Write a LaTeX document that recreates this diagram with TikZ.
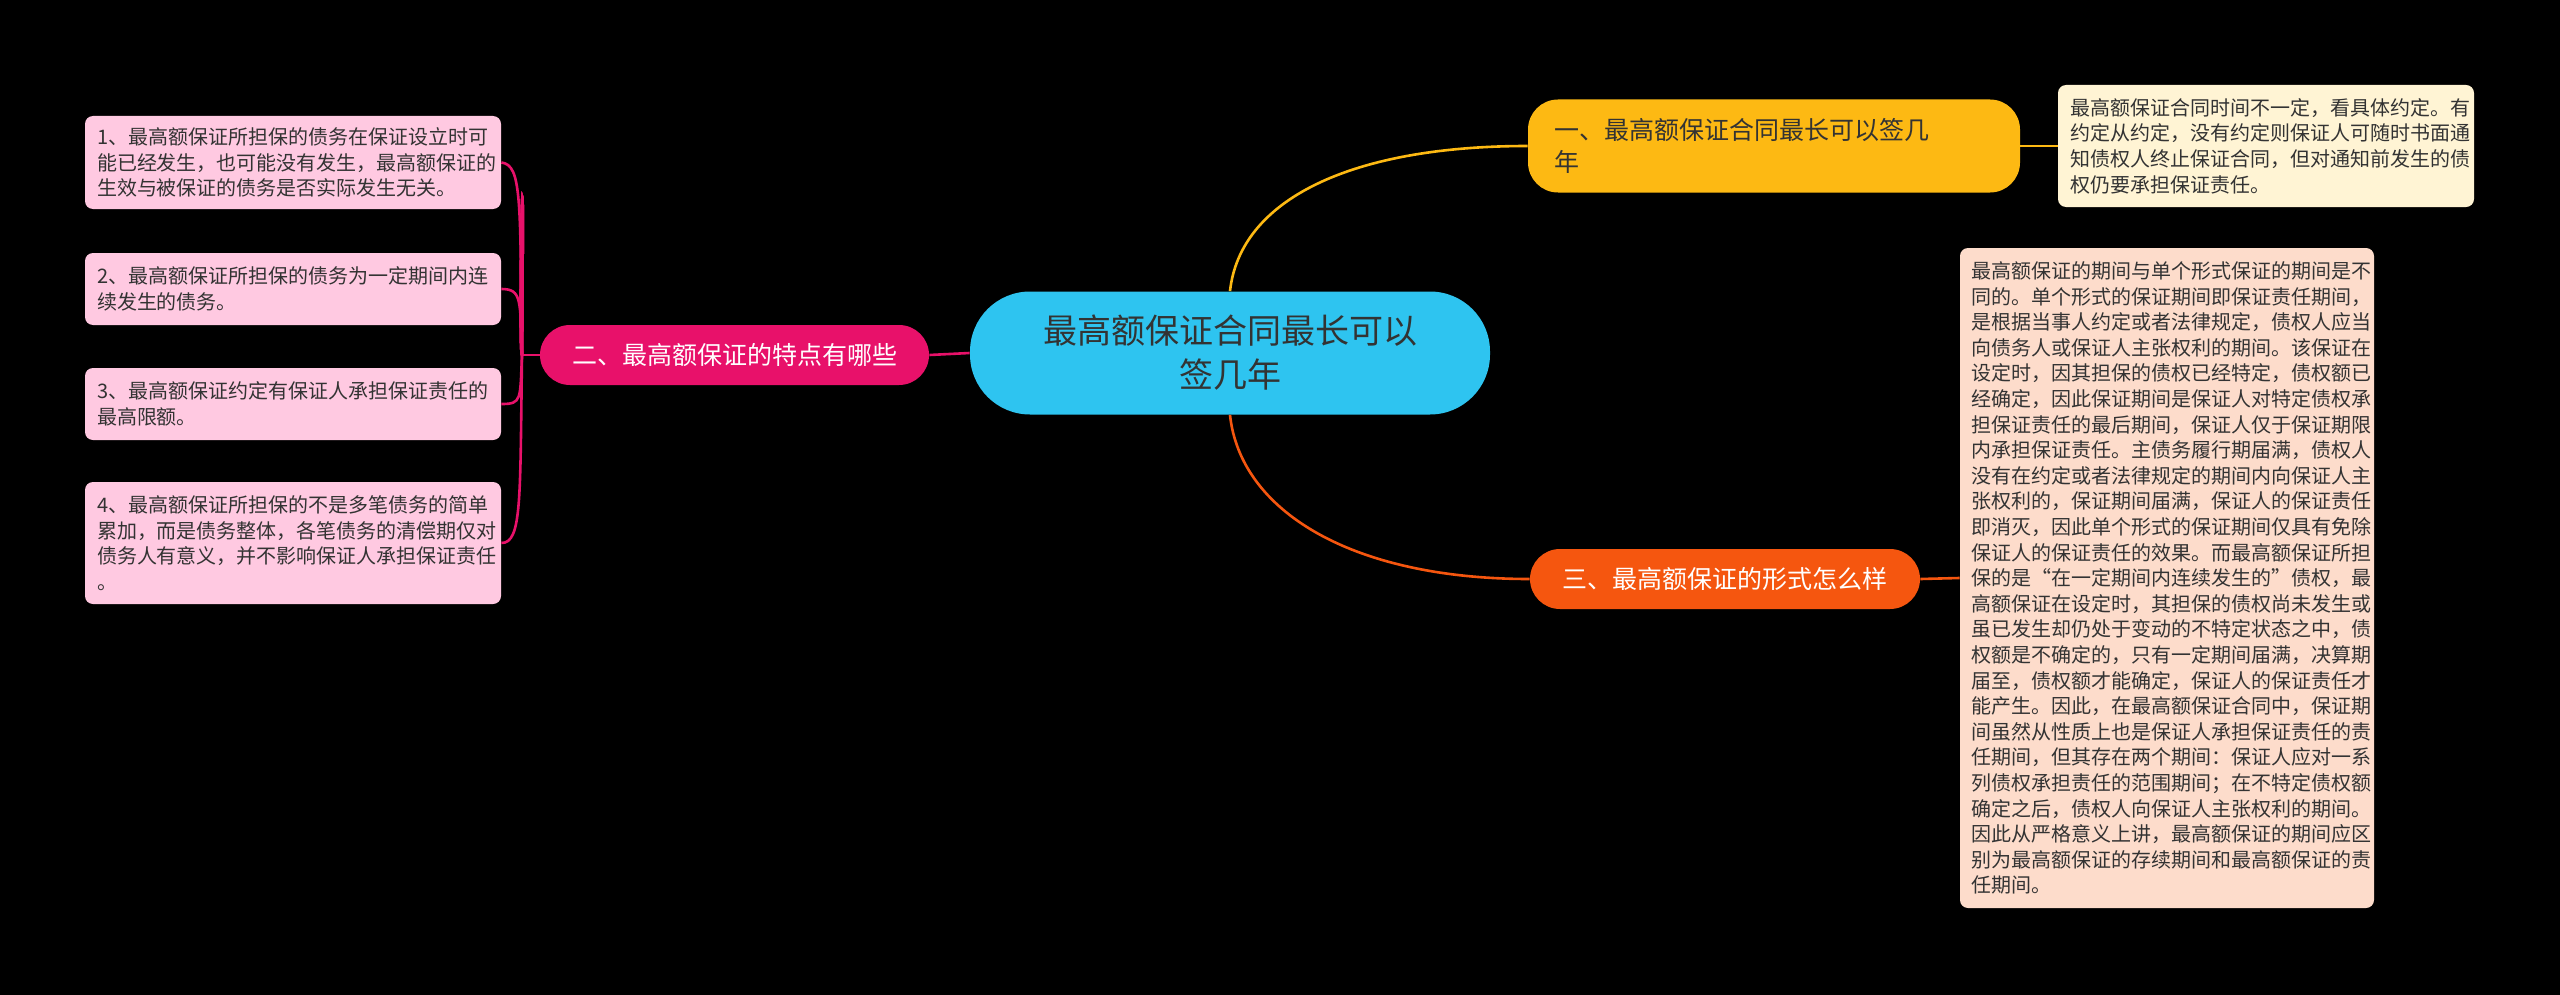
\documentclass[tikz,border=0pt]{standalone}
\usepackage{fontspec}
\setmainfont{Noto Sans CJK SC}
\begin{document}
\begin{tikzpicture}[x=0.5pt,y=-0.5pt,
  leaf/.style={rounded corners=4pt,inner sep=0pt,font=\fontsize{10}{12.8}\selectfont,text=black!80,align=left},
  branch/.style={rounded corners=15pt,inner sep=0pt,font=\fontsize{12.5}{16}\selectfont,align=left},
  conn/.style={line width=1.3pt}]
\fill[black] (0,0) rectangle (2560,995);
\useasboundingbox (0,0) rectangle (2560,995);
\definecolor{cen}{HTML}{2EC4F0}
\definecolor{yel}{HTML}{FDB913}
\definecolor{ora}{HTML}{F5560F}
\definecolor{pnk}{HTML}{E8116A}
\definecolor{yleaf}{HTML}{FFF4D4}
\definecolor{oleaf}{HTML}{FDDCCB}
\definecolor{pleaf}{HTML}{FFC9E1}
% center
\node[fill=cen,rounded corners=30pt,minimum width=260pt,minimum height=61.5pt,align=center,font=\fontsize{17}{22}\selectfont,text=black!80] (c) at (1230,353) {最高额保证合同最长可以\\签几年};
% branch 1
\node[branch,fill=yel,text=black!80,minimum width=246pt,minimum height=46.5pt,text width=220pt] (b1) at (1774,146) {一、最高额保证合同最长可以签几\\年};
\node[leaf,fill=yleaf,minimum width=208pt,minimum height=61pt,text width=196pt] (l1) at (2266,146) {最高额保证合同时间不一定，看具体约定。有\\约定从约定，没有约定则保证人可随时书面通\\知债权人终止保证合同，但对通知前发生的债\\权仍要承担保证责任。};
% branch 3
\node[branch,fill=ora,text=white,minimum width=195pt,minimum height=30pt,align=center] (b3) at (1725,579) {三、最高额保证的形式怎么样};
\node[leaf,fill=oleaf,minimum width=207pt,minimum height=330pt,text width=196pt] (l3) at (2167,578) {最高额保证的期间与单个形式保证的期间是不\\同的。单个形式的保证期间即保证责任期间，\\是根据当事人约定或者法律规定，债权人应当\\向债务人或保证人主张权利的期间。该保证在\\设定时，因其担保的债权已经特定，债权额已\\经确定，因此保证期间是保证人对特定债权承\\担保证责任的最后期间，保证人仅于保证期限\\内承担保证责任。主债务履行期届满，债权人\\没有在约定或者法律规定的期间内向保证人主\\张权利的，保证期间届满，保证人的保证责任\\即消灭，因此单个形式的保证期间仅具有免除\\保证人的保证责任的效果。而最高额保证所担\\保的是“在一定期间内连续发生的”债权，最\\高额保证在设定时，其担保的债权尚未发生或\\虽已发生却仍处于变动的不特定状态之中，债\\权额是不确定的，只有一定期间届满，决算期\\届至，债权额才能确定，保证人的保证责任才\\能产生。因此，在最高额保证合同中，保证期\\间虽然从性质上也是保证人承担保证责任的责\\任期间，但其存在两个期间：保证人应对一系\\列债权承担责任的范围期间；在不特定债权额\\确定之后，债权人向保证人主张权利的期间。\\因此从严格意义上讲，最高额保证的期间应区\\别为最高额保证的存续期间和最高额保证的责\\任期间。};
% branch 2
\node[branch,fill=pnk,text=white,minimum width=194.5pt,minimum height=30pt,align=center] (b2) at (734.5,355) {二、最高额保证的特点有哪些};
\node[leaf,fill=pleaf,minimum width=208pt,minimum height=46.5pt,text width=196pt] (p1) at (293,162.5) {1、最高额保证所担保的债务在保证设立时可\\能已经发生，也可能没有发生，最高额保证的\\生效与被保证的债务是否实际发生无关。};
\node[leaf,fill=pleaf,minimum width=208pt,minimum height=36pt,text width=196pt] (p2) at (293,289) {2、最高额保证所担保的债务为一定期间内连\\续发生的债务。};
\node[leaf,fill=pleaf,minimum width=208pt,minimum height=36pt,text width=196pt] (p3) at (293,404) {3、最高额保证约定有保证人承担保证责任的\\最高限额。};
\node[leaf,fill=pleaf,minimum width=208pt,minimum height=61pt,text width=196pt] (p4) at (293,543) {4、最高额保证所担保的不是多笔债务的简单\\累加，而是债务整体，各笔债务的清偿期仅对\\债务人有意义，并不影响保证人承担保证责任\\。};
% connectors
\draw[conn,yel] (c.north) .. controls (1240,200) and (1350,146) .. (b1.west);
\draw[conn,yel] (b1.east) -- (l1.west);
\draw[conn,ora] (c.south) .. controls (1240,510) and (1350,579) .. (b3.west);
\draw[conn,ora] (b3.east) -- (l3.west);
\draw[conn,pnk] (c.west) -- (b2.east);
\coordinate (k) at (522,355);
\draw[conn,pnk] (b2.west) -- (k);
\foreach \p in {p1,p2,p3,p4}{
  \draw[conn,pnk] (k) .. controls (518,355) and (525,{0}) .. (k) ;
}
\draw[conn,pnk] (k) .. controls (520,200) and (522,165) .. (p1.east);
\draw[conn,pnk] (k) .. controls (520,300) and (522,289) .. (p2.east);
\draw[conn,pnk] (k) .. controls (520,400) and (522,404) .. (p3.east);
\draw[conn,pnk] (k) .. controls (520,500) and (522,543) .. (p4.east);
\end{tikzpicture}
\end{document}
